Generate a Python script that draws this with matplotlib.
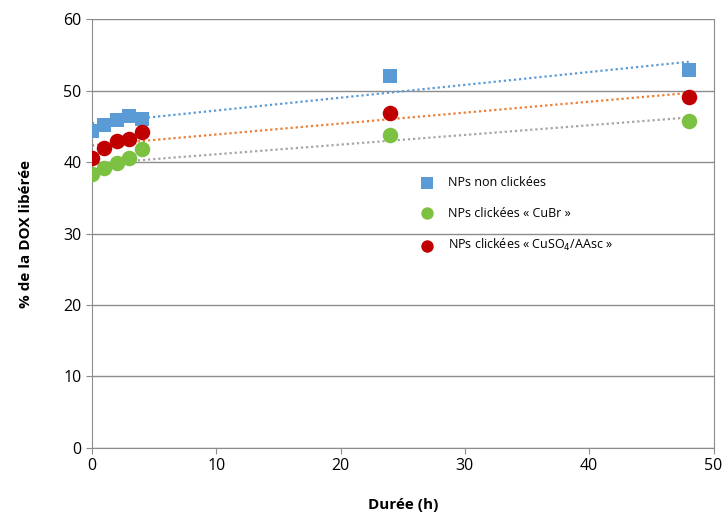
import numpy as np
import matplotlib
matplotlib.use("Agg")
import matplotlib.pyplot as plt

hours = [0, 1, 2, 3, 4, 24, 48]
non_clickees = [44.3, 45.2, 45.9, 46.4, 46.0, 52.0, 52.9]
clickees_cubr = [38.3, 39.2, 39.9, 40.6, 41.8, 43.8, 45.7]
clickees_cuso4 = [40.6, 42.0, 42.9, 43.2, 44.2, 46.9, 49.1]

labels = ["NPs non clickées", "NPs clickées « CuBr »", "NPs clickées « CuSO$_4$/AAsc »"]

plt.rcParams['font.family'] = ['Open Sans', 'DejaVu Sans']

fig = plt.figure(figsize=(7.27, 5.19), dpi=100)
ax = fig.add_axes([0.1265, 0.137, 0.855, 0.826])

series = [
    (non_clickees, 's', '#5B9BD5', '#5B9BD5', labels[0], 115),
    (clickees_cubr, 'o', '#7DC142', '#A5A5A5', labels[1], 125),
    (clickees_cuso4, 'o', '#C00000', '#ED7D31', labels[2], 125),
]
x = np.array(hours, dtype=float)
for vals, mk, col, tcol, lab, s in series:
    m, b = np.polyfit(x, np.array(vals), 1)
    xs = np.array([x.min(), x.max()])
    ax.plot(xs, m * xs + b, linestyle=(0, (1, 1.3)), color=tcol, lw=1.6, zorder=2)
for vals, mk, col, tcol, lab, s in series:
    ax.scatter(hours, vals, marker=mk, s=s, color=col, label=lab, zorder=3, linewidths=0)

ax.set_xlim(0, 50)
ax.set_ylim(0, 60)
ax.set_xticks(range(0, 51, 10))
ax.set_yticks(range(0, 61, 10))
ax.yaxis.grid(True, color='#8C8C8C', lw=1)
ax.set_axisbelow(True)
for sp in ax.spines.values():
    sp.set_color('#8C8C8C')
ax.spines['top'].set_visible(False)
ax.tick_params(axis='both', colors='#8C8C8C', labelcolor='black', labelsize=11.5, length=4)
ax.set_xlabel('Durée (h)', fontsize=11, fontweight='bold', labelpad=17)
ax.set_ylabel('% de la DOX libérée', fontsize=11, fontweight='bold', labelpad=22)

ax.legend(loc='upper left', bbox_to_anchor=(0.5, 0.66), frameon=False, fontsize=9,
          handletextpad=0.7, labelspacing=1.4, markerscale=0.8)

fig.savefig('out.png', dpi=100)
